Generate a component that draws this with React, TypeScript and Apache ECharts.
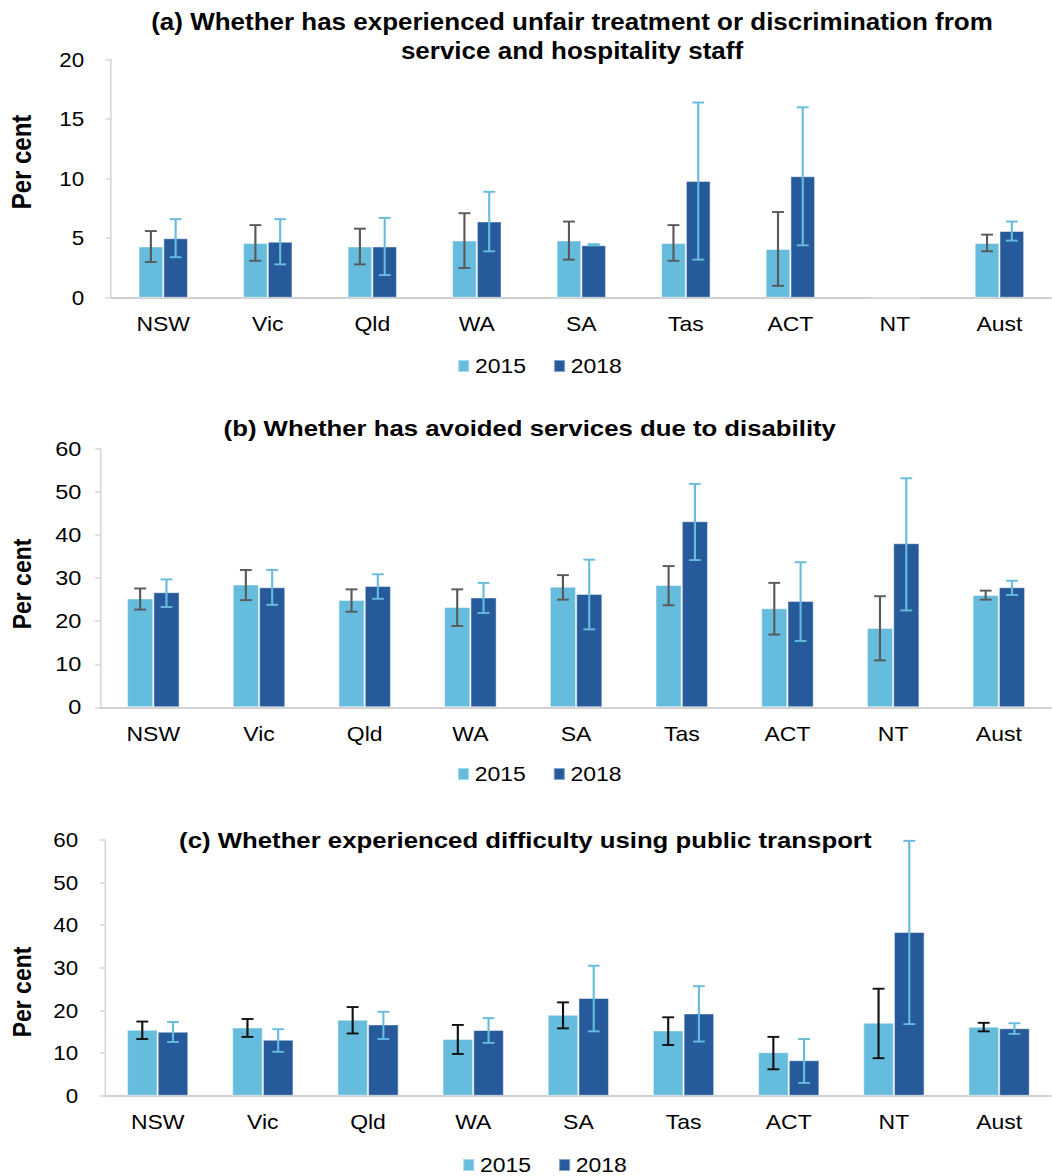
import React, { useEffect, useRef } from "react";
import * as echarts from "echarts";

const categories = ["NSW", "Vic", "Qld", "WA", "SA", "Tas", "ACT", "NT", "Aust"];
const legendNames = ["2015", "2018"];

// (a) unfair treatment or discrimination
const a2015 = [4.3, 4.6, 4.3, 4.8, 4.8, 4.6, 4.1, 0, 4.6];
const a2018 = [5.0, 4.7, 4.3, 6.4, 4.4, 9.8, 10.2, 0, 5.6];
const a2015Lo = [3.0, 3.1, 2.8, 2.5, 3.2, 3.1, 1.0, null, 3.9];
const a2015Hi = [5.6, 6.1, 5.8, 7.1, 6.4, 6.1, 7.2, null, 5.3];
const a2018Lo = [3.4, 2.8, 1.9, 3.9, 4.4, 3.2, 4.4, null, 4.8];
const a2018Hi = [6.6, 6.6, 6.7, 8.9, 4.5, 16.4, 16.0, null, 6.4];

// (b) avoided services
const b2015 = [25.3, 28.5, 24.9, 23.3, 28.0, 28.4, 23.0, 18.4, 26.1];
const b2018 = [26.7, 27.9, 28.2, 25.5, 26.3, 43.2, 24.7, 38.1, 27.9];
const b2015Lo = [22.7, 24.9, 22.2, 18.9, 25.0, 23.7, 16.9, 10.9, 25.0];
const b2015Hi = [27.6, 31.9, 27.4, 27.4, 30.7, 32.8, 28.9, 25.8, 27.1];
const b2018Lo = [23.3, 23.8, 25.2, 21.9, 18.1, 34.2, 15.4, 22.5, 26.1];
const b2018Hi = [29.7, 31.9, 30.9, 28.9, 34.3, 51.9, 33.7, 53.2, 29.4];

// (c) difficulty using public transport
const c2015 = [15.5, 16.0, 17.8, 13.3, 19.0, 15.3, 10.2, 17.1, 16.2];
const c2018 = [15.0, 13.1, 16.7, 15.4, 22.9, 19.3, 8.3, 38.4, 15.8];
const c2015Lo = [13.3, 13.8, 14.6, 9.8, 15.8, 11.9, 6.2, 8.8, 15.1];
const c2015Hi = [17.4, 18.0, 20.8, 16.6, 21.9, 18.4, 13.8, 25.1, 17.1];
const c2018Lo = [12.6, 10.3, 13.3, 12.4, 15.1, 12.7, 3.0, 16.8, 14.5];
const c2018Hi = [17.3, 15.6, 19.7, 18.2, 30.5, 25.7, 13.3, 59.8, 17.0];

const titleA = "(a) Whether has experienced unfair treatment or discrimination from\nservice and hospitality staff";
const titleB = "(b) Whether has avoided services due to disability";
const titleC = "(c) Whether experienced difficulty using public transport";
const yName = "Per cent";

const S = 1.12; // horizontal stretch of the reference
const W = 1052 / S;
const H = 1176;
const FONT = "'Liberation Sans', Arial, Helvetica, sans-serif";
const LIGHT = "#66BCDC";
const DARK = "#275A9A";
const ERR18 = "#66BCDC";

function errSeries(gi: number, lo: any[], hi: any[], ratio: number, side: number, color: string) {
  return {
    type: "custom",
    name: "err" + gi + side,
    xAxisIndex: gi,
    yAxisIndex: gi,
    z: 10,
    silent: true,
    data: lo.map((l, i) => [i, l, hi[i]]).filter((d) => d[1] != null),
    encode: { x: 0, y: [1, 2] },
    renderItem: (params: any, api: any) => {
      const i = api.value(0);
      const l = api.value(1);
      const h = api.value(2);
      const p1 = api.coord([i, l]);
      const p2 = api.coord([i, h]);
      const band = api.size([1, 0])[0];
      const cx = p1[0] + (side * band * ratio) / 2;
      const hw = 5.3;
      const style = { stroke: color, lineWidth: 1.9 };
      return {
        type: "group",
        children: [
          { type: "line", shape: { x1: cx, y1: p1[1], x2: cx, y2: p2[1] }, style },
          { type: "line", shape: { x1: cx - hw, y1: p1[1], x2: cx + hw, y2: p1[1] }, style },
          { type: "line", shape: { x1: cx - hw, y1: p2[1], x2: cx + hw, y2: p2[1] }, style },
        ],
      };
    },
  };
}

function barSeries(gi: number, name: string, data: number[], ratio: number, color: string) {
  return {
    type: "bar",
    name,
    xAxisIndex: gi,
    yAxisIndex: gi,
    data,
    barWidth: ratio * 100 + "%",
    barGap: "0%",
    itemStyle: { color, borderColor: "rgba(255,255,255,0.45)", borderWidth: 1 },
  };
}

export default function App() {
  const ref = useRef<HTMLDivElement>(null);
  useEffect(() => {
    document.body.style.margin = "0";
    const chart = echarts.init(ref.current!, undefined, { renderer: "svg" });

    const grids = [
      { left: 99.1, top: 59.7, width: 846.4, height: 238, max: 20, interval: 5, ratio: 0.237, labelMargin: 24, tickSize: 20 },
      { left: 89.7, top: 449, width: 855.4, height: 258.3, max: 60, interval: 10, ratio: 0.249, labelMargin: 17, tickSize: 21 },
      { left: 93.8, top: 840, width: 851.8, height: 255.7, max: 60, interval: 10, ratio: 0.292, labelMargin: 24, tickSize: 20 },
    ];
    const legendPos = [
      { left: 408, top: 355.5 },
      { left: 407.8, top: 763.5 },
      { left: 412.5, top: 1154.5 },
    ];
    const err2015Colors = ["#595959", "#595959", "#111111"];

    const series: any[] = [];
    const sets = [
      [a2015, a2018, a2015Lo, a2015Hi, a2018Lo, a2018Hi],
      [b2015, b2018, b2015Lo, b2015Hi, b2018Lo, b2018Hi],
      [c2015, c2018, c2015Lo, c2015Hi, c2018Lo, c2018Hi],
    ];
    sets.forEach((s, gi) => {
      const r = grids[gi].ratio;
      series.push(barSeries(gi, legendNames[0], s[0] as number[], r, LIGHT));
      series.push(barSeries(gi, legendNames[1], s[1] as number[], r, DARK));
      series.push(errSeries(gi, s[2], s[3], r, -1, err2015Colors[gi]));
      series.push(errSeries(gi, s[4], s[5], r, 1, ERR18));
    });

    const textCommon = { fontFamily: FONT, fill: "#000" };
    const option: any = {
      animation: false,
      textStyle: { fontFamily: FONT },
      grid: grids.map((g) => ({ left: g.left, top: g.top, width: g.width, height: g.height, containLabel: false })),
      xAxis: grids.map((g, gi) => ({
        type: "category",
        gridIndex: gi,
        data: categories,
        axisLine: { show: true, lineStyle: { color: "#D0D0D0", width: 2 } },
        axisTick: { show: false },
        axisLabel: { color: "#000", fontSize: 20.5, fontFamily: FONT, margin: 16, interval: 0 },
        splitLine: { show: false },
      })),
      yAxis: grids.map((g, gi) => ({
        type: "value",
        gridIndex: gi,
        min: 0,
        max: g.max,
        interval: g.interval,
        axisLine: { show: true, lineStyle: { color: "#D9D9D9", width: 1.5 } },
        axisTick: { show: true, length: 5, lineStyle: { color: "#D9D9D9", width: 1.5 } },
        axisLabel: { color: "#000", fontSize: g.tickSize, fontFamily: FONT, margin: g.labelMargin },
        splitLine: { show: false },
      })),
      legend: legendPos.map((p) => ({
        left: p.left,
        top: p.top,
        padding: 0,
        itemWidth: 10,
        itemHeight: 12,
        itemGap: 24,
        icon: "rect",
        selectedMode: false,
        data: legendNames,
        textStyle: { fontSize: 20.5, color: "#000", fontFamily: FONT, padding: [0, 0, 0, 0] },
      })),
      graphic: [
        { type: "text", x: 510.7, y: 36, style: { ...textCommon, text: titleA, fontSize: 23.2, fontWeight: "bold", lineHeight: 29, align: "center", verticalAlign: "middle" } },
        { type: "text", x: 473, y: 428, style: { ...textCommon, text: titleB, fontSize: 23, fontWeight: "bold", align: "center", verticalAlign: "middle" } },
        { type: "text", x: 469, y: 840, style: { ...textCommon, text: titleC, fontSize: 23, fontWeight: "bold", align: "center", verticalAlign: "middle" } },
        { type: "text", x: 19.6, y: 162, rotation: Math.PI / 2, style: { ...textCommon, text: yName, fontSize: 24, fontWeight: "bold", align: "center", verticalAlign: "middle" } },
        { type: "text", x: 19.6, y: 584, rotation: Math.PI / 2, style: { ...textCommon, text: yName, fontSize: 23, fontWeight: "bold", align: "center", verticalAlign: "middle" } },
        { type: "text", x: 19.6, y: 992, rotation: Math.PI / 2, style: { ...textCommon, text: yName, fontSize: 23, fontWeight: "bold", align: "center", verticalAlign: "middle" } },
      ],
      series,
    };
    chart.setOption(option);
    return () => chart.dispose();
  }, []);

  return (
    <div
      ref={ref}
      style={{
        position: "absolute",
        left: 0,
        top: 0,
        width: W,
        height: H,
        transform: `scaleX(${S})`,
        transformOrigin: "0 0",
        background: "#fff",
      }}
    />
  );
}
